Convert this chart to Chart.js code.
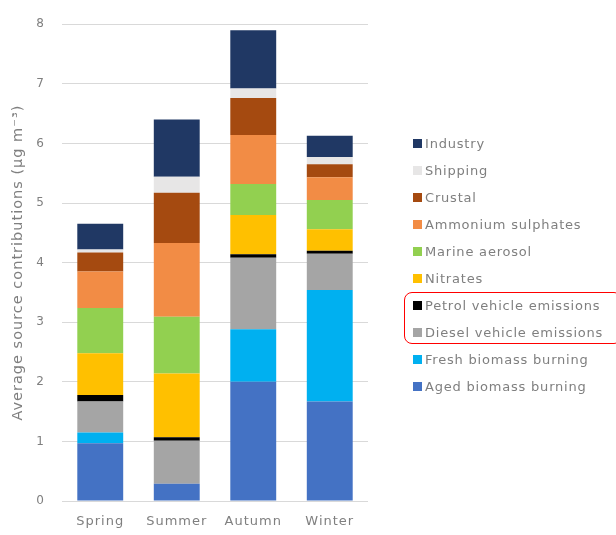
<!DOCTYPE html>
<html>
<head>
<meta charset="utf-8">
<script src="https://cdn.jsdelivr.net/npm/chart.js@4/dist/chart.umd.min.js"></script>
<style>
  html, body { margin: 0; padding: 0; background: #fff; }
  #wrap { position: relative; width: 616px; height: 535px; overflow: hidden; }
  #legend { position: absolute; left: 413px; top: 129.5px; margin: 0; padding: 0; list-style: none; }
  #legend li { height: 27px; display: flex; align-items: center; white-space: nowrap;
               font: 13px 'DejaVu Sans'; letter-spacing: 0.8px; color: #7f7f7f; }
  #legend span.box { width: 9px; height: 9px; margin-right: 3px; flex: none; }
  #frame { position: absolute; left: 404px; top: 292px; width: 216px; height: 50px;
           border: 1.5px solid #ff0000; border-radius: 8px; }
</style>
</head>
<body>
<div id="wrap">
  <canvas id="sourceChart" width="616" height="535"></canvas>
  <ul id="legend"></ul>
  <div id="frame"></div>
</div>
<script>
// Data (µg m-3), bottom of stack first
const seasons = ['Spring', 'Summer', 'Autumn', 'Winter'];
const agedBiomass = [0.97, 0.29, 2.00, 1.67];
const freshBiomass = [0.18, 0.00, 0.88, 1.87];
const diesel = [0.52, 0.72, 1.20, 0.61];
const petrol = [0.11, 0.06, 0.06, 0.05];
const nitrates = [0.70, 1.07, 0.66, 0.36];
const marine = [0.76, 0.95, 0.52, 0.49];
const ammonium = [0.61, 1.24, 0.82, 0.38];
const crustal = [0.32, 0.84, 0.62, 0.22];
const shipping = [0.05, 0.27, 0.16, 0.12];
const industry = [0.43, 0.96, 0.98, 0.36];
const yTicks = [0, 1, 2, 3, 4, 5, 6, 7, 8];

const font = 'DejaVu Sans';
const grey = '#7f7f7f';

function ds(label, data, color) {
    return { label: label, data: data, backgroundColor: color, borderWidth: 0 };
}

// the original font is wide, so space the canvas letters a bit
const spacing = {
    id: 'spacing',
    beforeLayout(chart) { chart.ctx.letterSpacing = '1px'; },
    beforeDraw(chart) { chart.ctx.letterSpacing = '1px'; }
};

// html legend, top item = top of stack
const htmlLegend = {
    id: 'htmlLegend',
    afterUpdate(chart) {
        const ul = document.getElementById('legend');
        ul.innerHTML = '';
        const items = chart.options.plugins.legend.labels.generateLabels(chart).reverse();
        items.forEach(item => {
            const li = document.createElement('li');
            const box = document.createElement('span');
            box.className = 'box';
            box.style.background = item.fillStyle;
            li.appendChild(box);
            li.appendChild(document.createTextNode(item.text));
            ul.appendChild(li);
        });
    }
};

const ctx = document.getElementById('sourceChart').getContext('2d');
new Chart(ctx, {
    type: 'bar',
    data: {
        labels: seasons,
        datasets: [
            ds('Aged biomass burning', agedBiomass, '#4472C4'),
            ds('Fresh biomass burning', freshBiomass, '#00B0F0'),
            ds('Diesel vehicle emissions', diesel, '#A5A5A5'),
            ds('Petrol vehicle emissions', petrol, '#000000'),
            ds('Nitrates', nitrates, '#FFC000'),
            ds('Marine aerosol', marine, '#92D050'),
            ds('Ammonium sulphates', ammonium, '#F28C45'),
            ds('Crustal', crustal, '#A54A10'),
            ds('Shipping', shipping, '#E7E6E6'),
            ds('Industry', industry, '#203864')
        ]
    },
    options: {
        responsive: false,
        animation: false,
        layout: { padding: { left: 10, top: 10, right: 248, bottom: 0 } },
        datasets: { bar: { categoryPercentage: 1, barPercentage: 0.6 } },
        plugins: {
            tooltip: { enabled: false },
            legend: { display: false }
        },
        scales: {
            x: {
                stacked: true,
                grid: { display: false, drawTicks: false },
                border: { display: false },
                ticks: { color: grey, padding: 13, font: { family: font, size: 13 } },
                afterFit: s => { s.height = 34; }
            },
            y: {
                stacked: true,
                min: 0,
                max: 8,
                afterBuildTicks: s => { s.ticks = yTicks.map(v => ({ value: v })); },
                grid: { color: '#d9d9d9', drawTicks: false },
                border: { display: false },
                ticks: { color: grey, padding: 17, font: { family: font, size: 12 } },
                title: {
                    display: true,
                    text: 'Average source contributions (µg m⁻³)',
                    color: grey,
                    padding: 0,
                    font: { family: font, size: 14.5 }
                },
                afterFit: s => { s.width = 52; }
            }
        }
    },
    plugins: [spacing, htmlLegend]
});
</script>
</body>
</html>
